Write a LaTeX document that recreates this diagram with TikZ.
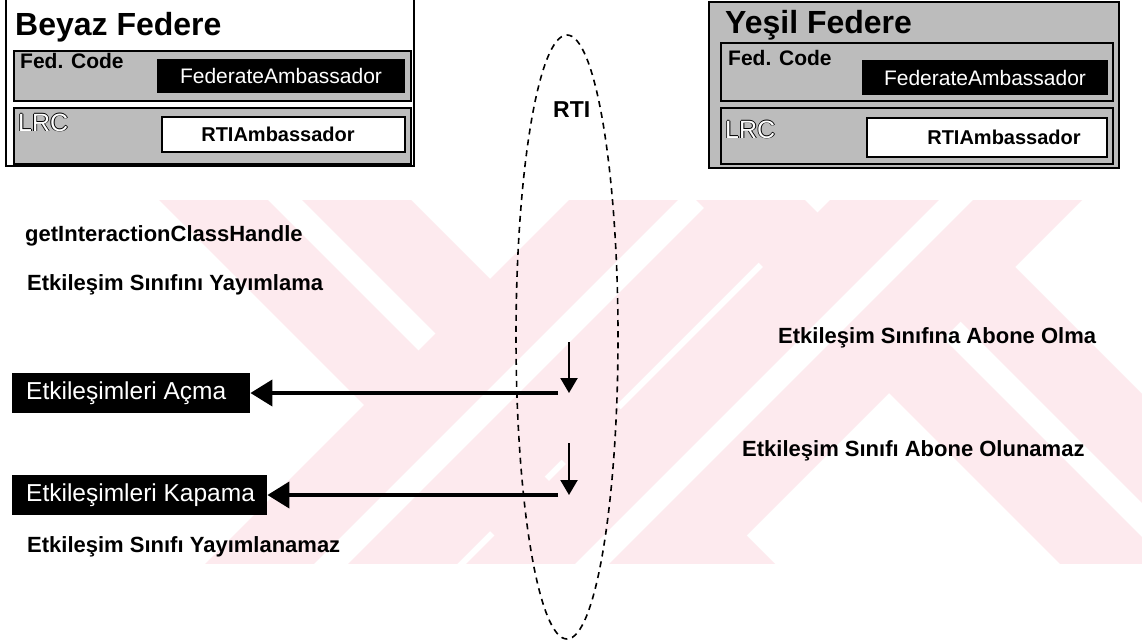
\documentclass[tikz,border=0pt]{standalone}
\usepackage{fontspec}
\setmainfont{Liberation Sans}
\usetikzlibrary{arrows.meta,shapes.geometric}

\definecolor{wm}{RGB}{253,234,238}
\definecolor{speckle}{RGB}{188,188,188}

% letters drawn as outlines: black copies around a white core
\newcommand{\hollowtext}[1]{%
  \rlap{\kern-0.9pt#1}\rlap{\kern0.9pt#1}%
  \rlap{\raisebox{0.9pt}{#1}}\rlap{\raisebox{-0.9pt}{#1}}%
  \textcolor{white}{#1}}

\tikzset{
  fedframe/.style={draw=black, line width=2.2pt, anchor=north west, inner sep=0pt},
  panel/.style={draw=black, line width=1.6pt, fill=speckle, anchor=north west, inner sep=0pt},
  ambox/.style={fill=black, text=white, inner sep=0pt,
    font=\fontsize{21}{24}\selectfont},
  rtibox/.style={draw=black, line width=1.6pt, fill=white, inner sep=0pt},
  rtitext/.style={inner sep=0pt, font=\bfseries\fontsize{20}{24}\selectfont},
  fedtitle/.style={anchor=base west, inner sep=0pt, font=\bfseries\fontsize{32}{36}\selectfont},
  codelabel/.style={anchor=base west, inner sep=0pt, font=\bfseries\fontsize{21}{24}\selectfont},
  lrclabel/.style={anchor=base west, inner sep=0pt, font=\fontsize{25}{28}\selectfont},
  msg/.style={anchor=base west, inner sep=0pt, font=\bfseries\fontsize{22}{26}\selectfont},
  msgbox/.style={fill=black, text=white, anchor=west, minimum height=40pt,
    inner xsep=14pt, inner ysep=0pt, font=\fontsize{24.5}{28}\selectfont},
  callarrow/.style={line width=4pt, -{Triangle[length=22pt,width=26pt]}},
  droparrow/.style={line width=2.2pt, -{Triangle[length=15pt,width=17pt]}},
  rtiring/.style={ellipse, draw=black, line width=1.6pt, dash pattern=on 6pt off 5pt,
    inner sep=0pt},
  wmbar/.style={fill=wm},
  wmgap/.style={draw=white, line width=24pt},
}

\begin{document}
\begin{tikzpicture}[x=1pt, y=-1pt]
\useasboundingbox (0,0) rectangle (1142,642);
\fill[white] (0,0) rectangle (1142,642);

% faint background watermark: two crossed double bars
\begin{scope}
  \clip (0,200) rectangle (1142,563);
  % left cross
  \fill[wmbar] (109,150) -- (361,150) -- (831,620) -- (579,620) -- cycle;
  \draw[wmgap] (235,150) -- (705,620);
  \fill[wmbar] (619,150) -- (871,150) -- (401,620) -- (149,620) -- cycle;
  \draw[wmgap] (745,150) -- (275,620);
  % right cross
  \fill[wmbar] (646,150) -- (898,150) -- (1368,620) -- (1116,620) -- cycle;
  \draw[wmgap] (772,150) -- (1242,620);
  \fill[wmbar] (880,150) -- (1132,150) -- (662,620) -- (410,620) -- cycle;
  \draw[wmgap] (1006,150) -- (536,620);
\end{scope}

% white federate
\node[fedframe, fill=white, minimum width=408pt, minimum height=168pt] (beyaz) at (5,-3) {};
\node[fedtitle] (beyazT) at (15,36) {Beyaz Federe};
\node[panel, minimum width=397pt, minimum height=50pt] (bfed) at (13,50) {};
\node[ambox, minimum width=248pt, minimum height=34pt] (bamb) at (281,76) {FederateAmbassador};
\node[codelabel] (bfedT) at (20,69) {Fed. Code};
\node[panel, minimum width=397pt, minimum height=56pt] (blrc) at (13,107) {};
\node[rtibox, minimum width=243pt, minimum height=35pt] (brti) at (283.5,134.5) {};
\node[rtitext] (brtiT) at (278,134.5) {RTIAmbassador};
\node[lrclabel] (blrcT) at (18,131) {\hollowtext{LRC}};

% green federate
\node[fedframe, fill=speckle, minimum width=410pt, minimum height=166pt] (yesil) at (708,1) {};
\node[fedtitle] (yesilT) at (725,34) {Yeşil Federe};
\node[panel, minimum width=392pt, minimum height=58pt] (yfed) at (720,42) {};
\node[ambox, minimum width=246pt, minimum height=35pt] (yamb) at (985,77.5) {FederateAmbassador};
\node[codelabel] (yfedT) at (728,65) {Fed. Code};
\node[panel, minimum width=392pt, minimum height=56pt] (ylrc) at (720,107) {};
\node[rtibox, minimum width=240pt, minimum height=39pt] (yrti) at (987,137.5) {};
\node[rtitext] (yrtiT) at (1004,137.5) {RTIAmbassador};
\node[lrclabel] (ylrcT) at (725,138) {\hollowtext{LRC}};

% RTI
\node[rtiring, minimum width=102pt, minimum height=604pt] (rti) at (567,337) {};
\node[anchor=base west, inner sep=0pt, font=\bfseries\fontsize{23}{26}\selectfont] (rtiT) at (553,117) {RTI};

% service texts
\node[msg] (getH) at (25,241) {getInteractionClassHandle};
\node[msg] (pub) at (27,290) {Etkileşim Sınıfını Yayımlama};
\node[msg] (sub) at (778,343) {Etkileşim Sınıfına Abone Olma};
\node[msg] (unsub) at (742,456) {Etkileşim Sınıfı Abone Olunamaz};
\node[msg] (unpub) at (27,552) {Etkileşim Sınıfı Yayımlanamaz};

% callbacks
\node[msgbox] (acma) at (12,393) {\makebox[210pt][l]{Etkileşimleri Açma}};
\node[msgbox] (kapama) at (12,495) {\makebox[227pt][l]{Etkileşimleri Kapama}};

\coordinate (s1) at (558,393);
\coordinate (s2) at (558,495);
\draw[callarrow] (s1) -- (acma.east);
\draw[callarrow] (s2) -- (kapama.east);

\coordinate (d1a) at (569,342);
\coordinate (d1b) at (569,393);
\coordinate (d2a) at (569,443);
\coordinate (d2b) at (569,495);
\draw[droparrow] (d1a) -- (d1b);
\draw[droparrow] (d2a) -- (d2b);
\end{tikzpicture}
\end{document}
